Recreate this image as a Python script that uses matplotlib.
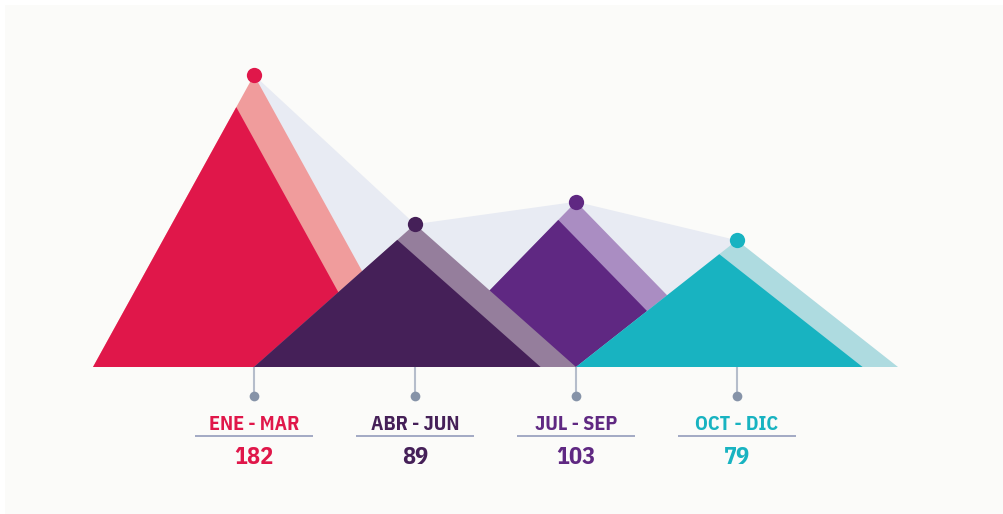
import matplotlib
matplotlib.use("Agg")
import matplotlib.pyplot as plt
from matplotlib.patches import Polygon, Rectangle

# ---- data ----
quarters = ["ENE - MAR", "ABR - JUN", "JUL - SEP", "OCT - DIC"]
values = [182, 89, 103, 79]
main_colors = ["#E0174A", "#452058", "#5F2882", "#18B3C1"]
shade_colors = ["#F09C9C", "#957E9C", "#AA8DC2", "#AEDBE0"]
draw_order = [0, 2, 1, 3]

# ---- layout (pixel-based scales) ----
W, H = 1004, 514
x0_px, dx_px = 254, 161          # pixel of index 0 and spacing
base_px = 367                    # pixel of value 0
px_per_unit = 292 / 182.0
half_w = 1.0                     # triangle half-base in index units
inner = 0.89                     # scale of the solid triangle

fig = plt.figure(figsize=(W / 100, H / 100), dpi=100)
fig.patch.set_facecolor("white")
ax = fig.add_axes([0, 0, 1, 1])
ax.set_xlim(-x0_px / dx_px, (W - x0_px) / dx_px)
ax.set_ylim(-(H - base_px) / px_per_unit, base_px / px_per_unit)
ax.axis("off")

def px2x(p):
    return (p - x0_px) / dx_px

def px2y(p):
    return (base_px - p) / px_per_unit

# background panel
ax.add_patch(Rectangle((px2x(5), px2y(H)), (W - 5) / dx_px, (H - 5) / px_per_unit,
                       facecolor="#FBFBF9", edgecolor="none", zorder=0))

n = len(values)
# grey polygon linking peaks
poly_pts = [(i, v) for i, v in enumerate(values)] + [(n - 1, 0), (0, 0)]
ax.add_patch(Polygon(poly_pts, closed=True, facecolor="#E8EBF3", edgecolor="none", zorder=1))

z = 2
for i in draw_order:
    v = values[i]
    left = i - half_w
    shade = [(left, 0), (i, v), (i + half_w, 0)]
    main = [(left, 0), (left + inner * half_w, inner * v), (left + inner * 2 * half_w, 0)]
    ax.add_patch(Polygon(shade, closed=True, facecolor=shade_colors[i], edgecolor="none", zorder=z))
    ax.add_patch(Polygon(main, closed=True, facecolor=main_colors[i], edgecolor="none", zorder=z + 1))
    z += 2

# peak dots
for i, v in enumerate(values):
    ax.plot([i], [v], "o", ms=11, color=main_colors[i], mec="none", zorder=20)

font = ["IBM Plex Sans Condensed", "DejaVu Sans"]
stem_c = "#8693A8"
for i, (q, v) in enumerate(zip(quarters, values)):
    ax.plot([i, i], [0, px2y(395)], color="#B5BDCB", lw=1.5, zorder=1, solid_capstyle="butt")
    ax.plot([i], [px2y(396)], "o", ms=7, color=stem_c, mec="none", zorder=2)
    ax.text(i, px2y(424), q, ha="center", va="center", fontsize=14.5, fontweight="bold",
            color=main_colors[i], family=font)
    ax.plot([i - 59 / dx_px, i + 59 / dx_px], [px2y(436)] * 2, color="#9BA3C0", lw=1.3,
            solid_capstyle="butt")
    ax.text(i, px2y(457), str(v), ha="center", va="center", fontsize=17.5, fontweight="bold",
            color=main_colors[i], family=font)

fig.savefig("out.png", dpi=100, facecolor=fig.get_facecolor())
